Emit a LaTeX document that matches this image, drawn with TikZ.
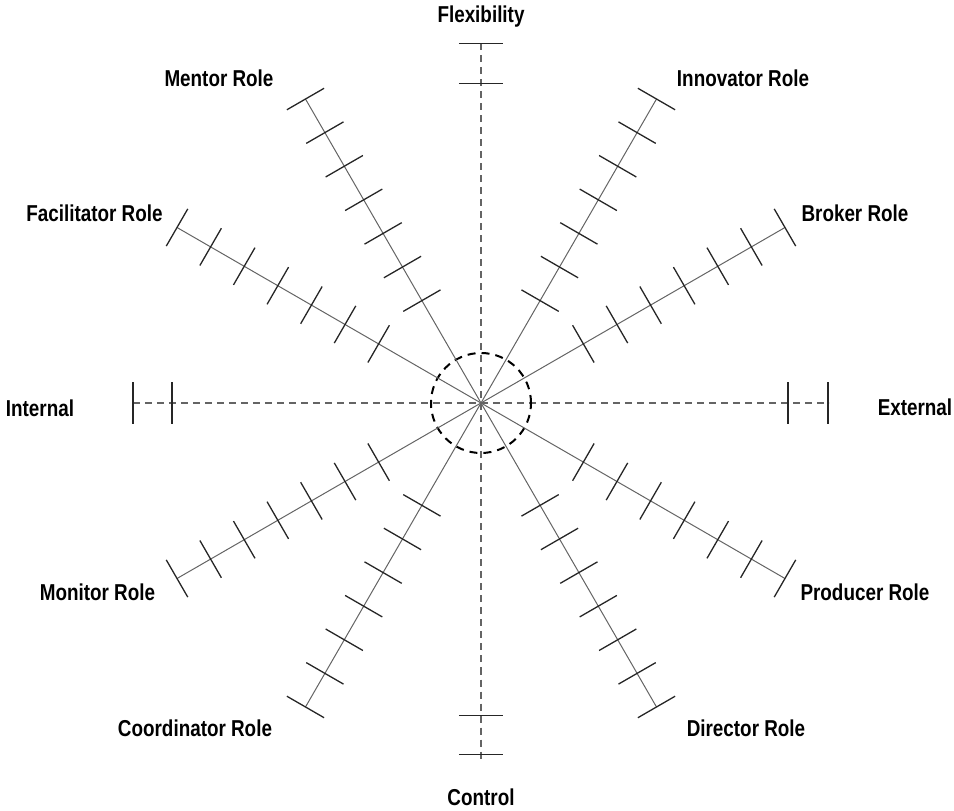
\documentclass[tikz,border=0pt]{standalone}
\usepackage{fontspec}
\setmainfont{Liberation Sans}[FakeStretch=0.82]
\definecolor{axisgray}{RGB}{100,100,100}

\begin{document}
\begin{tikzpicture}[x=1pt, y=1pt,
  axisline/.style={axisgray, line width=2.8pt, dash pattern=on 7pt off 5pt},
  roleline/.style={axisgray, line width=1pt},
  tickmark/.style={black!85, line width=1.3pt},
  hubcircle/.style={black, line width=2pt, dash pattern=on 8pt off 6pt},
  rolelabel/.style={anchor=base, inner sep=0pt, font=\fontsize{23}{26}\selectfont\bfseries}]
\useasboundingbox (-481,-408) rectangle (473,403);

\coordinate (c) at (0,0);

%the two dashed axes
\coordinate (flex) at (0,359.5);
\coordinate (ctrl) at (0,-359.5);
\coordinate (int) at (-348,0);
\coordinate (ext) at (348,0);
\draw[axisline] (flex) -- (ctrl);
\draw[axisline] (int) -- (ext);
\foreach \y in {359.5, 319.5, -312.5, -351.5}
  \draw[tickmark] (-22,\y) -- (22,\y);
\foreach \x in {-348, -309, 307, 347}
  \draw[tickmark] (\x,-21) -- (\x,21);

%dashed circle at the hub
\draw[hubcircle] (c) circle (50);

%role spokes with their ticks
\foreach \ang/\name in {60/inno, 30/brok, -30/prod, -60/dir, -120/coord, -150/mon, 150/facil, 120/ment} {
  \coordinate (\name) at (\ang:351);
  \draw[roleline] (c) -- (\name);
  \foreach \k in {0,...,6}
    \draw[tickmark, rotate=\ang] ({351-\k*38.8},-21.5) -- ++(0,43);
}

%labels
\node[rolelabel] (flexlbl) at (0,380) {Flexibility};
\node[rolelabel] (ctrllbl) at (0,-402) {Control};
\node[rolelabel] (intlbl) at (-441,-14) {Internal};
\node[rolelabel] (extlbl) at (434,-13) {External};
\node[rolelabel] (innolbl) at (262,316) {Innovator Role};
\node[rolelabel] (mentlbl) at (-262,316) {Mentor Role};
\node[rolelabel] (broklbl) at (374,181) {Broker Role};
\node[rolelabel] (facillbl) at (-386.5,181) {Facilitator Role};
\node[rolelabel] (prodlbl) at (384,-198) {Producer Role};
\node[rolelabel] (monlbl) at (-383.5,-198) {Monitor Role};
\node[rolelabel] (coordlbl) at (-286,-333) {Coordinator Role};
\node[rolelabel] (dirlbl) at (265,-333) {Director Role};

\end{tikzpicture}
\end{document}
